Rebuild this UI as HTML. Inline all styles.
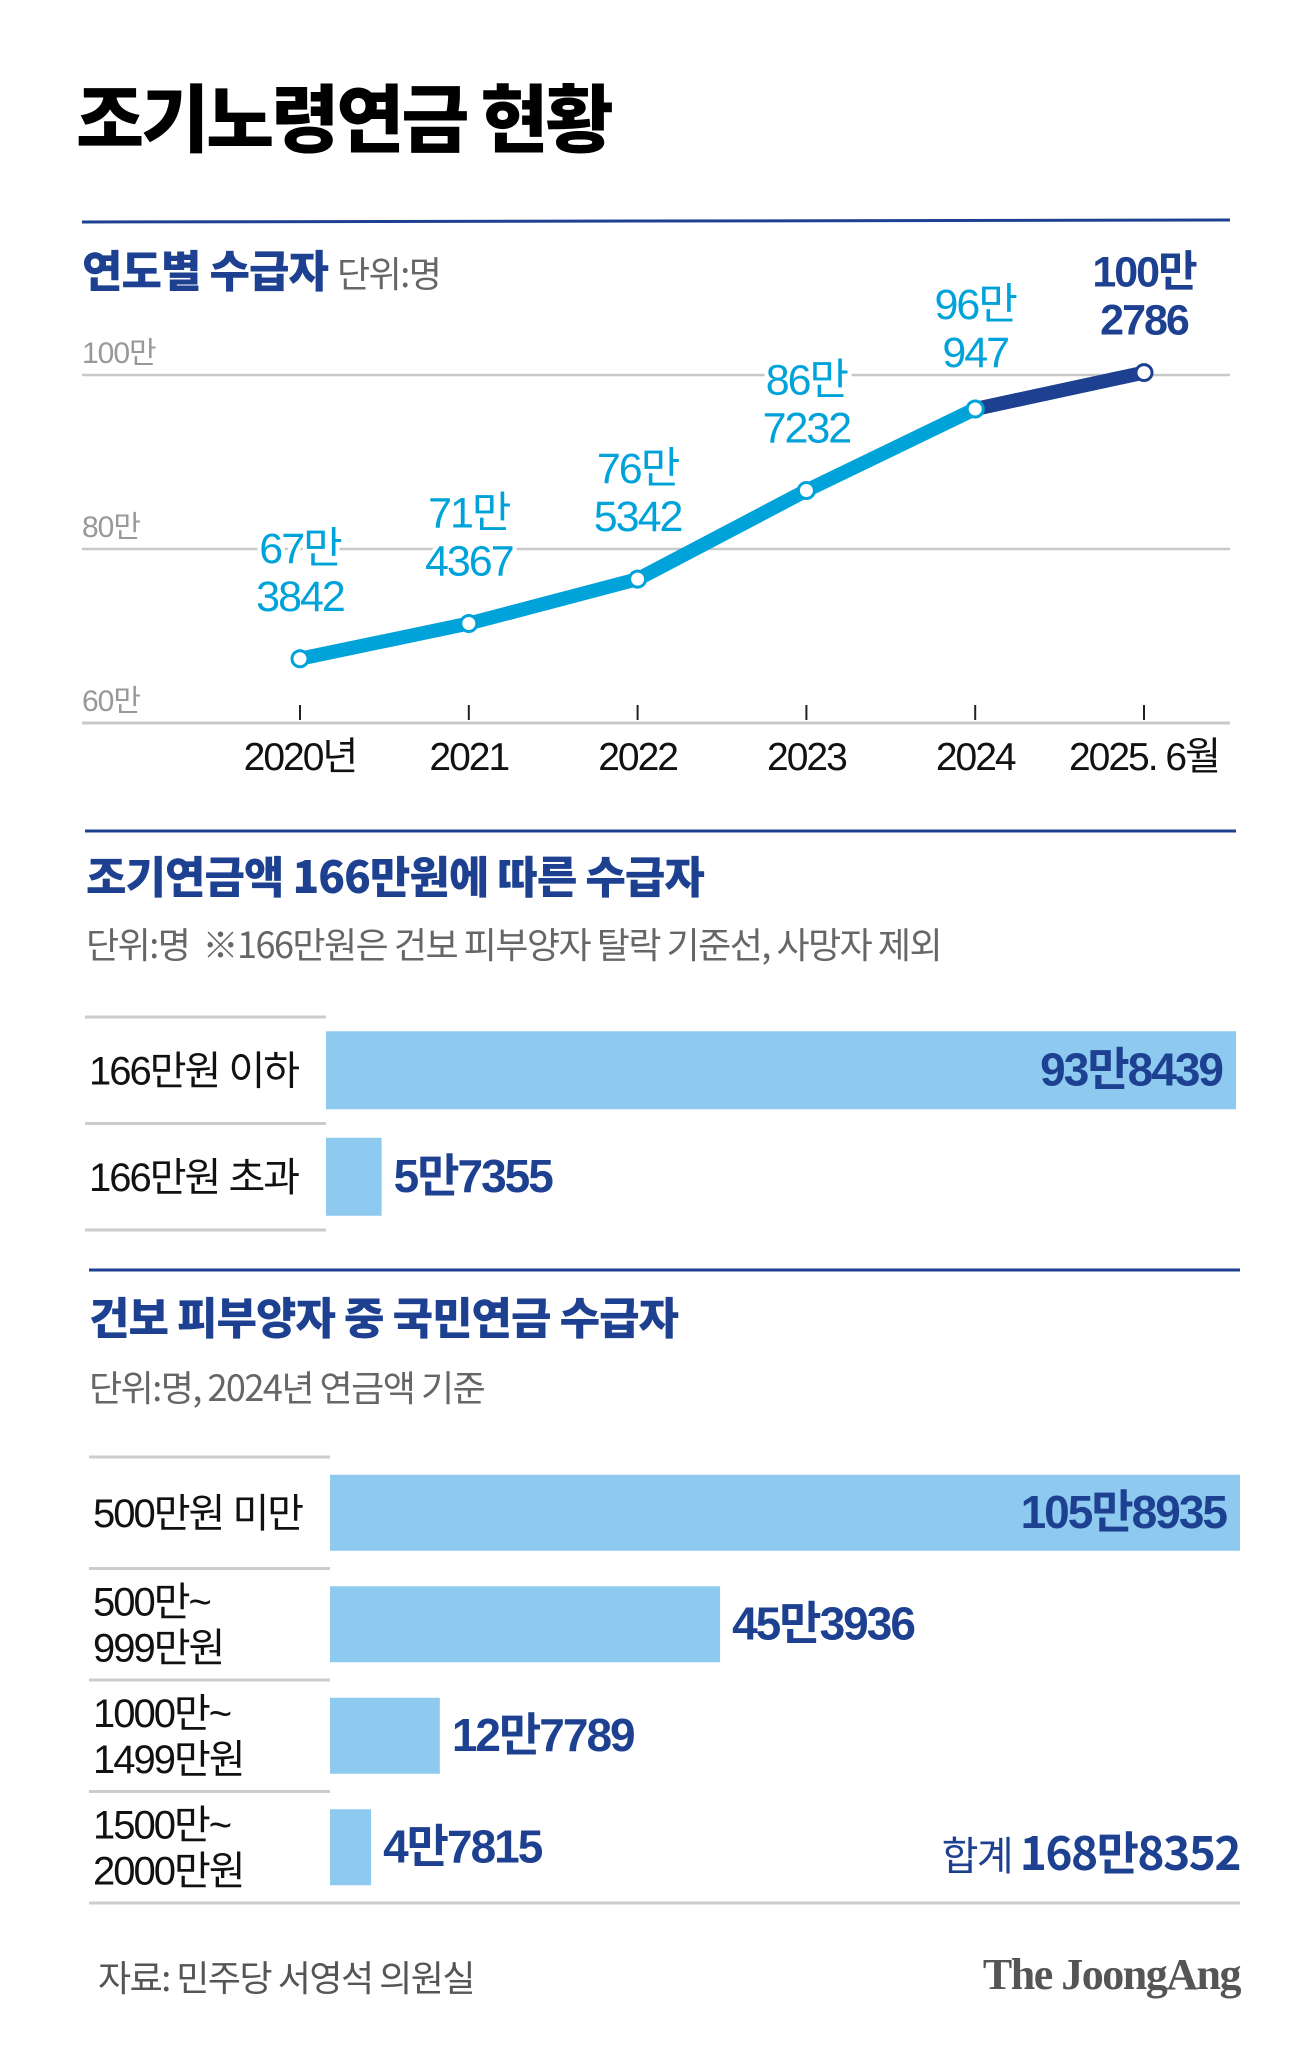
<!DOCTYPE html>
<html><head><meta charset="utf-8"><style>
body{margin:0;background:#fff;}
#c{position:relative;width:1315px;height:2046px;background:#fff;overflow:hidden;font-family:"Liberation Sans","Noto Sans CJK KR",sans-serif;}
.t{position:absolute;white-space:nowrap;line-height:1;}
.h{font-family:"Noto Sans CJK KR",sans-serif;font-weight:900;color:#1d4190;letter-spacing:-1px;}
.sub{font-family:"Noto Sans CJK KR",sans-serif;color:#666;letter-spacing:-1.5px;}
</style></head><body>
<div id="c">
<div class="t" style="left:76px;top:78px;font-size:74px;font-family:'Noto Sans CJK KR',sans-serif;font-weight:900;letter-spacing:-3px;color:#000;">조기노령연금 현황</div>

<svg id="lc" width="1315" height="800" style="position:absolute;left:0;top:0"></svg>

<div class="t h" style="left:82px;top:246px;font-size:44px;">연도별 수급자 <span class="sub" style="font-weight:400;font-size:36px;">단위:명</span></div>

<div class="t h" style="left:86px;top:852px;font-size:44px;">조기연금액 166만원에 따른 수급자</div>
<div class="t sub" style="left:86px;top:925px;font-size:36px;">단위:명 &nbsp;※166만원은 건보 피부양자 탈락 기준선, 사망자 제외</div>

<svg id="b1" width="1315" height="2046" style="position:absolute;left:0;top:0"></svg>

<div class="t h" style="left:89px;top:1293px;font-size:44px;">건보 피부양자 중 국민연금 수급자</div>
<div class="t sub" style="left:89px;top:1368px;font-size:36px;">단위:명, 2024년 연금액 기준</div>

<div class="t" style="right:75px;top:1828px;font-family:'Noto Sans CJK KR',sans-serif;color:#1d4190;font-size:40px;letter-spacing:-1.5px;">합계 <b style="font-size:46px">168만8352</b></div>

<div class="t sub" style="left:98px;top:1958px;font-size:36px;color:#555;">자료: 민주당 서영석 의원실</div>
<div class="t" style="right:75px;top:1953px;font-family:'Liberation Serif',serif;font-weight:700;font-size:44px;color:#555;letter-spacing:-1.5px;">The JoongAng</div>
</div>
<script>
const years=["2020년","2021","2022","2023","2024","2025. 6월"];
const values=[673842,714367,765342,867232,960947,1002786];
const valTop=["67만","71만","76만","86만","96만","100만"];
const valBot=["3842","4367","5342","7232","947","2786"];
const gridVals=[600000,800000,1000000];
const gridLbl=["60만","80만","100만"];
const cat1=["166만원 이하","166만원 초과"];
const v1=[938439,57355];
const lab1=["93만8439","5만7355"];
const cat2=[["500만원 미만"],["500만~","999만원"],["1000만~","1499만원"],["1500만~","2000만원"]];
const v2=[1058935,453936,127789,47815];
const lab2=["105만8935","45만3936","12만7789","4만7815"];

const NS="http://www.w3.org/2000/svg";
function mk(p,tag,a){const e=document.createElementNS(NS,tag);for(const k in a)e.setAttribute(k,a[k]);p.appendChild(e);return e;}
const lc=document.getElementById('lc');
const x=i=>300+i*168.8;
const y=v=>723-(v-600000)/400000*348;
let e=mk(lc,'line',{x1:82,x2:1230,y1:222,y2:220,stroke:'#1d4190','stroke-width':3});

gridVals.forEach((g,i)=>{
 let l=mk(lc,'line',{x1:82,x2:1230,y1:y(g),y2:y(g),stroke:'#c8c8c8','stroke-width':i==0?3:2.5});
 
 let t=mk(lc,'text',{x:82,y:y(g)-12,'font-size':30,fill:'#999','font-family':'Liberation Sans, Noto Sans CJK KR, sans-serif','letter-spacing':'-1'});
 t.textContent=gridLbl[i];
});
years.forEach((yr,i)=>{
 let l=mk(lc,'line',{x1:x(i),x2:x(i),y1:705,y2:720,stroke:'#222','stroke-width':2});
 
 let t=mk(lc,'text',{x:x(i),y:770,'font-size':39,fill:'#111','text-anchor':'middle','font-family':'Liberation Sans, Noto Sans CJK KR, sans-serif','letter-spacing':'-2'});
 t.textContent=yr;
});
let pts=values.map((v,i)=>x(i)+','+y(v));
let pl=mk(lc,'polyline',{points:pts.slice(0,5).join(' '),fill:'none',stroke:'#00a3d9','stroke-width':14,'stroke-linejoin':'round'});

let pl2=mk(lc,'polyline',{points:pts.slice(4).join(' '),fill:'none',stroke:'#1d4190','stroke-width':14});

values.forEach((v,i)=>{
 const col=i==5?'#1d4190':'#00a3d9';
 let c=mk(lc,'circle',{cx:x(i),cy:y(v),r:8,fill:'#fff',stroke:col,'stroke-width':3});
 
 const ty=y(v)-(i==5?38:i==4?42:48);
 [valBot[i],valTop[i]].forEach((s,j)=>{
  let t=mk(lc,'text',{x:x(i),y:ty-j*48,'font-size':43,'font-weight':i==5?700:400,fill:col,'text-anchor':'middle','font-family':'Liberation Sans, Noto Sans CJK KR, sans-serif','letter-spacing':'-2',stroke:'#fff','stroke-width':8,'paint-order':'stroke'});
  t.textContent=s;
 });
});

const b=document.getElementById('b1');
function rule(y1,x1,x2,c,w,n){let l=mk(b,'line',{x1:x1,x2:x2,y1:y1,y2:y1,stroke:c,'stroke-width':w});}
rule(831,85,1236,'#1d4190',3,'section2-rule');
rule(1270,89,1240,'#1d4190',3,'section3-rule');
function bars(cats,vals,labs,x0,x1,rowTop,rowH,barH,maxV,lineX,lastFull){
 const sx=v=>(v/maxV)*(x1-x0);
 rule(rowTop,lineX,x0,'#ccc',3,'row-divider');
 cats.forEach((c,i)=>{
  const top=rowTop+i*rowH, cy=top+rowH/2;
  rule(top+rowH,lineX,(lastFull&&i==cats.length-1)?x1:x0,'#ccc',3,'row-divider');
  let r=mk(b,'rect',{x:x0,y:cy-barH/2,width:sx(vals[i]),height:barH,fill:'#8ecaf0'});
  
  const lines=Array.isArray(c)?c:[c];
  lines.forEach((s,j)=>{
   let t=mk(b,'text',{x:lineX+4,y:cy+14+(j-(lines.length-1)/2)*46,'font-size':40,fill:'#111','font-family':'Liberation Sans, Noto Sans CJK KR, sans-serif','letter-spacing':'-2'});
   t.textContent=s;
  });
  const inside=sx(vals[i])>(x1-x0)*0.7;
  let t=mk(b,'text',{x:inside?x0+sx(vals[i])-14:x0+sx(vals[i])+12,y:cy+15,'font-size':46,'font-weight':700,fill:'#1d4190','text-anchor':inside?'end':'start','font-family':'Liberation Sans, Noto Sans CJK KR, sans-serif','letter-spacing':'-2'});
  t.textContent=labs[i];
 });
}
bars(cat1,v1,lab1,326,1236,1017,106.5,78,938439,85,false);
bars(cat2,v2,lab2,330,1240,1457,111.5,76,1058935,89,true);
</script>
</body></html>
